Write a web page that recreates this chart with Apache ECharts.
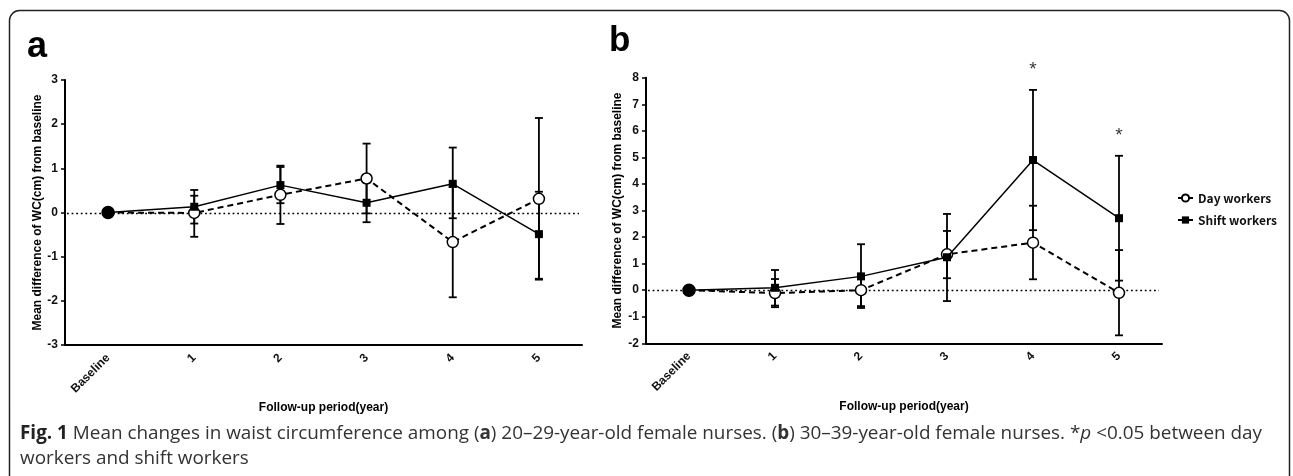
<!DOCTYPE html>
<html>
<head>
<meta charset="utf-8">
<script src="https://cdn.jsdelivr.net/npm/echarts@6/dist/echarts.min.js"></script>
<style>
html,body{margin:0;padding:0;background:#fff;}
#chart{width:1293px;height:476px;}
</style>
</head>
<body>
<div id="chart"></div>
<script>
// ---- data ----
const categories = ['Baseline', '1', '2', '3', '4', '5'];

// panel a: 20-29-year-old
const dayA      = [0, -0.01, 0.40, 0.77, -0.67, 0.31];
const dayALow   = [0, -0.55, -0.26, -0.02, -1.92, -1.52];
const dayAHigh  = [0, 0.38, 1.06, 1.56, 0.58, 2.14];
const shiftA     = [0, 0.13, 0.62, 0.22, 0.65, -0.49];
const shiftALow  = [0, -0.25, 0.21, -0.22, -0.13, -1.50];
const shiftAHigh = [0, 0.51, 1.03, 0.68, 1.47, 0.47];

// panel b: 30-39-year-old
const dayB      = [0, -0.11, 0.00, 1.35, 1.79, -0.10];
const dayBLow   = [0, -0.64, -0.60, 0.45, 0.41, -1.70];
const dayBHigh  = [0, 0.42, 0.60, 2.23, 3.18, 1.51];
const shiftB     = [0, 0.09, 0.52, 1.24, 4.90, 2.71];
const shiftBLow  = [0, -0.58, -0.67, -0.41, 2.26, 0.36];
const shiftBHigh = [0, 0.76, 1.73, 2.87, 7.54, 5.06];
const sigB = ['', '', '', '', '*', '*'];

const yTicksA = {min: -3, max: 3, interval: 1};
const yTicksB = {min: -2, max: 8, interval: 1};
const refLine = 0;

const yName = 'Mean difference of WC(cm) from baseline';
const xName = 'Follow-up period(year)';

// ---- chart ----
const FONT = '"Liberation Sans", Arial, sans-serif';
const CAP = '"Open Sans", sans-serif';
const chart = echarts.init(document.getElementById('chart'), null, {renderer: 'canvas'});

function xAxisCfg(gi) {
  return {
    type: 'category', gridIndex: gi, data: categories, boundaryGap: true,
    name: xName, nameLocation: 'middle', nameGap: 52,
    nameTextStyle: {fontFamily: FONT, fontWeight: 'bold', fontSize: 12, color: '#000'},
    axisLine: {onZero: false, lineStyle: {color: '#000', width: 2}},
    axisTick: {alignWithLabel: true, length: 4, lineStyle: {color: '#000', width: 1.5}},
    axisLabel: {rotate: 45, margin: 11, fontFamily: FONT, fontWeight: 'bold', fontSize: 12, color: '#111'},
    splitLine: {show: false}
  };
}
function yAxisCfg(gi, t, gap) {
  return {
    type: 'value', gridIndex: gi, min: t.min, max: t.max, interval: t.interval,
    name: yName, nameLocation: 'middle', nameGap: gap,
    nameTextStyle: {fontFamily: FONT, fontWeight: 'bold', fontSize: 12, color: '#000'},
    axisLine: {show: true, onZero: false, lineStyle: {color: '#000', width: 2}},
    axisTick: {show: true, length: 4, lineStyle: {color: '#000', width: 1.5}},
    axisLabel: {margin: 7, fontFamily: FONT, fontWeight: 'bold', fontSize: 12, color: '#111'},
    splitLine: {show: false}
  };
}

function zeroLineSeries(gi) {
  return {
    type: 'custom', xAxisIndex: gi, yAxisIndex: gi, silent: true, z: 1,
    data: [[0, refLine]],
    renderItem: function (params, api) {
      const cs = params.coordSys;
      const p = api.coord([0, api.value(1)]);
      const y = Math.round(p[1]) + 0.5;
      return {
        type: 'line',
        shape: {x1: cs.x + 2, y1: y, x2: cs.x + cs.width - 3, y2: y},
        style: {stroke: '#000', lineWidth: 1.5, lineDash: [1.8, 2.8], lineCap: 'butt'}
      };
    }
  };
}

function errorSeries(gi, low, high) {
  return {
    type: 'custom', xAxisIndex: gi, yAxisIndex: gi, silent: true, z: 3,
    data: categories.map((c, i) => [i, low[i], high[i]]),
    renderItem: function (params, api) {
      const i = api.value(0);
      const lo = api.coord([i, api.value(1)]);
      const hi = api.coord([i, api.value(2)]);
      const cw = 4;
      const st = {stroke: '#000', lineWidth: 1.8};
      return {
        type: 'group',
        children: [
          {type: 'line', shape: {x1: lo[0], y1: lo[1], x2: hi[0], y2: hi[1]}, style: st},
          {type: 'line', shape: {x1: lo[0] - cw, y1: lo[1], x2: lo[0] + cw, y2: lo[1]}, style: st},
          {type: 'line', shape: {x1: hi[0] - cw, y1: hi[1], x2: hi[0] + cw, y2: hi[1]}, style: st}
        ]
      };
    }
  };
}

function daySeries(gi, vals) {
  return {
    name: 'Day workers', type: 'line', xAxisIndex: gi, yAxisIndex: gi, z: 4,
    data: vals.map((v, i) => i === 0 ? {value: v, itemStyle: {color: '#000'}, symbolSize: 12} : v),
    symbol: 'circle', symbolSize: 11, showAllSymbol: true,
    lineStyle: {color: '#000', width: 2, type: [6, 4]},
    itemStyle: {color: '#fff', borderColor: '#000', borderWidth: 1.5},
    emphasis: {disabled: true}
  };
}
function shiftSeries(gi, vals) {
  return {
    name: 'Shift workers', type: 'line', xAxisIndex: gi, yAxisIndex: gi, z: 5,
    data: vals.map((v, i) => i === 0 ? {value: v, symbol: 'circle', symbolSize: 12} : v),
    symbol: 'rect', symbolSize: 8, showAllSymbol: true,
    lineStyle: {color: '#000', width: 1.5},
    itemStyle: {color: '#000'},
    emphasis: {disabled: true}
  };
}

const option = {
  animation: false,
  backgroundColor: '#fff',
  grid: [
    {left: 65, top: 80, width: 517, height: 265},
    {left: 646, top: 77.7, width: 516, height: 265.6}
  ],
  xAxis: [xAxisCfg(0), xAxisCfg(1)],
  yAxis: [yAxisCfg(0, yTicksA, 21), yAxisCfg(1, yTicksB, 22)],
  legend: {
    orient: 'vertical', left: 1172, top: 187, itemWidth: 15, itemHeight: 9, itemGap: 10,
    data: ['Day workers', 'Shift workers'],
    textStyle: {fontFamily: '"Noto Sans CJK KR", "Noto Sans", sans-serif', fontWeight: 'bold', fontSize: 12, color: '#111'},
    selectedMode: false
  },
  series: [
    zeroLineSeries(0),
    errorSeries(0, dayALow, dayAHigh),
    errorSeries(0, shiftALow, shiftAHigh),
    daySeries(0, dayA),
    shiftSeries(0, shiftA),
    zeroLineSeries(1),
    errorSeries(1, dayBLow, dayBHigh),
    errorSeries(1, shiftBLow, shiftBHigh),
    daySeries(1, dayB),
    shiftSeries(1, shiftB),
    {
      type: 'scatter', xAxisIndex: 1, yAxisIndex: 1, silent: true, symbolSize: 0, z: 6,
      data: categories.map((c, i) => ({value: [i, shiftBHigh[i]], label: {formatter: sigB[i]}})).filter((d, i) => sigB[i]),
      label: {show: true, position: 'top', distance: 11, fontFamily: FONT, fontSize: 19, color: '#000'}
    }
  ],
  graphic: [
    {type: 'rect', silent: true, shape: {x: 9.5, y: 10.5, width: 1280, height: 480, r: 10},
     style: {fill: 'none', stroke: '#222', lineWidth: 1.5}},
    {type: 'text', left: 27, top: 29, silent: true,
     style: {text: 'a', fontFamily: FONT, fontWeight: 'bold', fontSize: 36, fill: '#000'}},
    {type: 'text', left: 609, top: 24, silent: true,
     style: {text: 'b', fontFamily: FONT, fontWeight: 'bold', fontSize: 35, fill: '#000'}},
    {type: 'text', left: 20, top: 421, silent: true,
     style: {
       text: '{b|Fig. 1} Mean changes in waist circumference among ({bb|a}) 20–29-year-old female nurses. ({bb|b}) 30–39-year-old female nurses. *{i|p} <0.05 between day\nworkers and shift workers',
       fontFamily: CAP, fontSize: 18.9, fill: '#333', lineHeight: 25,
       rich: {
         b: {fontFamily: CAP, fontWeight: 'bold', fontSize: 18.9, fill: '#222', lineHeight: 25},
         bb: {fontFamily: CAP, fontWeight: 'bold', fontSize: 18.9, fill: '#333', lineHeight: 25},
         i: {fontFamily: CAP, fontStyle: 'italic', fontSize: 18.9, fill: '#333', lineHeight: 25}
       }
     }}
  ]
};
chart.setOption(option);
</script>
</body>
</html>
